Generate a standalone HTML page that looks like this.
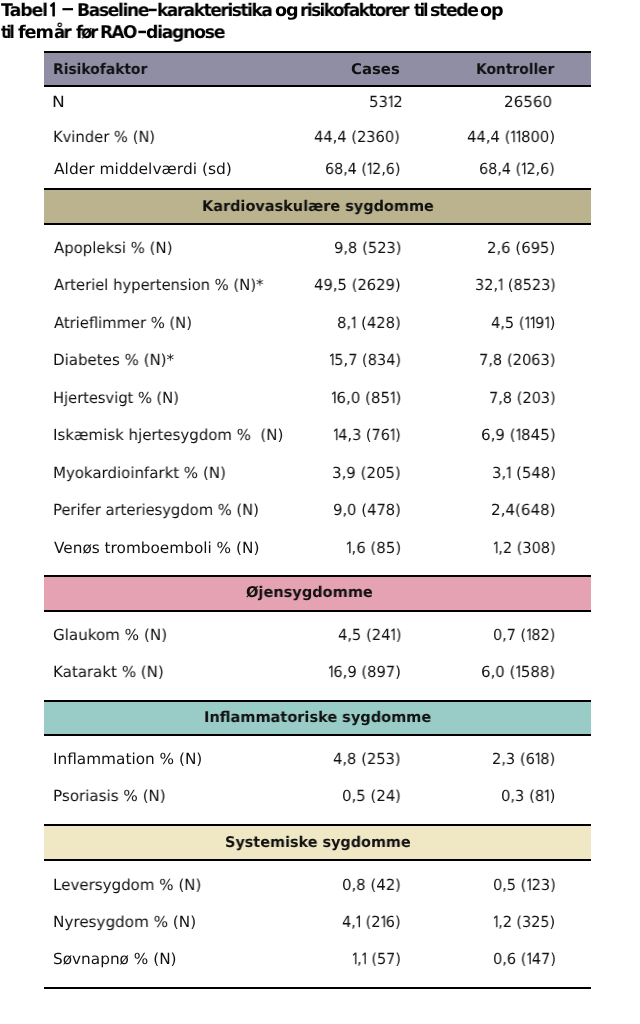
<!DOCTYPE html>
<html lang="da"><head><meta charset="utf-8"><title>Tabel 1 – Baseline-karakteristika og risikofaktorer</title>
<style>
html,body{margin:0;padding:0;background:#fff;text-rendering:geometricPrecision;}
body{width:640px;height:1024px;position:relative;overflow:hidden;}
.r,.b,.t{position:absolute;white-space:pre;transform-origin:0 0;color:#111;will-change:transform;}
.r{font-family:"DejaVu Sans", sans-serif;font-weight:400;font-size:15.3px;line-height:15.3px;letter-spacing:0px;}
.b{font-family:"DejaVu Sans", sans-serif;font-weight:700;font-size:14.8px;line-height:14.8px;letter-spacing:0px;}
.t{font-family:"DejaVu Sans", sans-serif;font-weight:700;font-size:17.6px;line-height:17.6px;letter-spacing:-1.1px;color:#000;}
.ln{position:absolute;left:44px;width:547px;height:2px;background:#000;}
.fill{position:absolute;left:44px;width:547px;}
.o{font-family:'NanumGothic', 'DejaVu Sans', sans-serif;margin-left:-0.085em;letter-spacing:-0.16em;-webkit-text-stroke:0.3px #111;}</style></head><body>
<div class="ln" style="top:51px"></div>
<div class="fill" style="top:53px;height:32px;background:#908ea5"></div>
<div class="ln" style="top:85px"></div>
<div class="ln" style="top:188px"></div>
<div class="fill" style="top:190px;height:33px;background:#bab38d"></div>
<div class="ln" style="top:223px"></div>
<div class="ln" style="top:575px"></div>
<div class="fill" style="top:577px;height:33px;background:#e4a2b3"></div>
<div class="ln" style="top:610px"></div>
<div class="ln" style="top:700px"></div>
<div class="fill" style="top:702px;height:32px;background:#99ccc6"></div>
<div class="ln" style="top:734px"></div>
<div class="ln" style="top:824px"></div>
<div class="fill" style="top:826px;height:33px;background:#f0e8c5"></div>
<div class="ln" style="top:859px"></div>
<div class="ln" style="top:987px"></div>
<div class="t" style="left:0.90px;top:3.10px;transform:scaleX(0.9859)">Tabel</div>
<div class="t" style="left:48.40px;top:2.10px;font-family:'NanumGothic', 'Liberation Sans', sans-serif;-webkit-text-stroke:0.7px #000;transform:scaleX(1.0000)">1</div>
<div class="t" style="left:61.47px;top:1.10px;transform:scaleX(1.5259)">–</div>
<div class="t" style="left:76.54px;top:3.10px;letter-spacing:-1.40px;transform:scaleX(0.9736)">Baseline</div>
<div class="t" style="left:147.48px;top:2.10px;transform:scaleX(1.5238)">-</div>
<div class="t" style="left:157.46px;top:3.10px;letter-spacing:-1.46px;transform:scaleX(0.9617)">karakteristika</div>
<div class="t" style="left:275.15px;top:3.10px;transform:scaleX(1.0024)">og</div>
<div class="t" style="left:300.28px;top:3.10px;letter-spacing:-1.54px;transform:scaleX(0.9491)">risikofaktorer</div>
<div class="t" style="left:413.58px;top:3.10px;letter-spacing:-2.00px;transform:scaleX(0.8746)">til</div>
<div class="t" style="left:429.62px;top:3.10px;letter-spacing:-1.35px;transform:scaleX(0.9792)">stede</div>
<div class="t" style="left:480.35px;top:3.10px;transform:scaleX(0.9955)">op</div>
<div class="t" style="left:0.79px;top:25.25px;letter-spacing:-2.20px;transform:scaleX(0.8491)">til</div>
<div class="t" style="left:18.05px;top:25.25px;transform:scaleX(1.0059)">fem</div>
<div class="t" style="left:54.49px;top:25.25px;letter-spacing:-1.95px;transform:scaleX(0.9465)">år</div>
<div class="t" style="left:75.57px;top:25.25px;letter-spacing:-2.12px;transform:scaleX(0.9221)">før</div>
<div class="t" style="left:100.15px;top:25.25px;letter-spacing:-1.73px;transform:scaleX(0.9655)">RAO</div>
<div class="t" style="left:136.67px;top:24.05px;transform:scaleX(1.4286)">-</div>
<div class="t" style="left:146.46px;top:25.25px;letter-spacing:-1.31px;transform:scaleX(0.9817)">diagnose</div>
<div class="b" style="left:52.83px;top:62.60px;transform:scaleX(0.9357)">Risikofaktor</div>
<div class="b" style="left:351.49px;top:62.60px;transform:scaleX(1.0074)">Cases</div>
<div class="b" style="left:476.13px;top:62.60px;transform:scaleX(0.9345)">Kontroller</div>
<div class="r" style="left:52.32px;top:94.70px;transform:scaleX(1.1176)">N</div>
<div class="r" style="left:368.59px;top:94.70px;transform:scaleX(0.9719)">53<span class="o">1</span>2</div>
<div class="r" style="left:503.81px;top:94.70px;transform:scaleX(0.9861)">26560</div>
<div class="r" style="left:52.56px;top:129.80px;transform:scaleX(0.9627)">Kvinder % (N)</div>
<div class="r" style="left:314.28px;top:129.80px;transform:scaleX(0.9573)">44,4 (2360)</div>
<div class="r" style="left:467.48px;top:129.80px;transform:scaleX(0.9652)">44,4 (<span class="o">1</span><span class="o">1</span>800)</div>
<div class="r" style="left:53.75px;top:161.90px;transform:scaleX(1.0123)">Alder middelværdi (sd)</div>
<div class="r" style="left:324.77px;top:161.90px;transform:scaleX(0.9338)">68,4 (<span class="o">1</span>2,6)</div>
<div class="r" style="left:479.46px;top:161.90px;transform:scaleX(0.9389)">68,4 (<span class="o">1</span>2,6)</div>
<div class="r" style="left:53.76px;top:240.75px;transform:scaleX(0.9733)">Apopleksi % (N)</div>
<div class="r" style="left:333.54px;top:240.75px;transform:scaleX(0.9603)">9,8 (523)</div>
<div class="r" style="left:487.13px;top:240.75px;transform:scaleX(0.9706)">2,6 (695)</div>
<div class="r" style="left:53.76px;top:278.23px;transform:scaleX(0.9646)">Arteriel hypertension % (N)*</div>
<div class="r" style="left:314.28px;top:278.23px;transform:scaleX(0.9664)">49,5 (2629)</div>
<div class="r" style="left:474.52px;top:278.23px;transform:scaleX(0.9446)">32,<span class="o">1</span> (8523)</div>
<div class="r" style="left:53.76px;top:315.71px;transform:scaleX(0.9633)">Atrieflimmer % (N)</div>
<div class="r" style="left:337.44px;top:315.71px;transform:scaleX(0.9631)">8,<span class="o">1</span> (428)</div>
<div class="r" style="left:490.99px;top:315.71px;transform:scaleX(0.9527)">4,5 (<span class="o">1</span><span class="o">1</span>9<span class="o">1</span>)</div>
<div class="r" style="left:52.53px;top:353.19px;transform:scaleX(0.9831)">Diabetes % (N)*</div>
<div class="r" style="left:329.09px;top:353.19px;transform:scaleX(0.9492)"><span class="o">1</span>5,7 (834)</div>
<div class="r" style="left:478.80px;top:353.19px;transform:scaleX(0.9561)">7,8 (2063)</div>
<div class="r" style="left:52.56px;top:390.67px;transform:scaleX(0.9577)">Hjertesvigt % (N)</div>
<div class="r" style="left:330.97px;top:390.67px;transform:scaleX(0.9799)"><span class="o">1</span>6,0 (85<span class="o">1</span>)</div>
<div class="r" style="left:488.61px;top:390.67px;transform:scaleX(0.9491)">7,8 (203)</div>
<div class="r" style="left:52.53px;top:428.15px;transform:scaleX(0.9783)">Iskæmisk hjertesygdom %  (N)</div>
<div class="r" style="left:333.39px;top:428.15px;transform:scaleX(0.9453)"><span class="o">1</span>4,3 (76<span class="o">1</span>)</div>
<div class="r" style="left:480.92px;top:428.15px;transform:scaleX(0.9823)">6,9 (<span class="o">1</span>845)</div>
<div class="r" style="left:52.53px;top:465.63px;transform:scaleX(0.9798)">Myokardioinfarkt % (N)</div>
<div class="r" style="left:332.28px;top:465.63px;transform:scaleX(0.9786)">3,9 (205)</div>
<div class="r" style="left:491.59px;top:465.63px;transform:scaleX(0.9654)">3,<span class="o">1</span> (548)</div>
<div class="r" style="left:52.56px;top:503.11px;transform:scaleX(0.9624)">Perifer arteriesygdom % (N)</div>
<div class="r" style="left:333.13px;top:503.11px;transform:scaleX(0.9662)">9,0 (478)</div>
<div class="r" style="left:490.71px;top:503.11px;transform:scaleX(0.9866)">2,4(648)</div>
<div class="r" style="left:53.75px;top:540.59px;transform:scaleX(0.9978)">Venøs tromboemboli % (N)</div>
<div class="r" style="left:346.07px;top:540.59px;transform:scaleX(0.9770)"><span class="o">1</span>,6 (85)</div>
<div class="r" style="left:492.79px;top:540.59px;transform:scaleX(0.9469)"><span class="o">1</span>,2 (308)</div>
<div class="r" style="left:53.26px;top:627.70px;transform:scaleX(0.9881)">Glaukom % (N)</div>
<div class="r" style="left:337.68px;top:627.70px;transform:scaleX(0.9594)">4,5 (24<span class="o">1</span>)</div>
<div class="r" style="left:493.16px;top:627.70px;transform:scaleX(0.9412)">0,7 (<span class="o">1</span>82)</div>
<div class="r" style="left:52.53px;top:665.10px;transform:scaleX(0.9831)">Katarakt % (N)</div>
<div class="r" style="left:328.28px;top:665.10px;transform:scaleX(0.9600)"><span class="o">1</span>6,9 (897)</div>
<div class="r" style="left:481.32px;top:665.10px;transform:scaleX(0.9769)">6,0 (<span class="o">1</span>588)</div>
<div class="r" style="left:52.50px;top:751.80px;transform:scaleX(0.9993)">Inflammation % (N)</div>
<div class="r" style="left:333.38px;top:751.80px;transform:scaleX(0.9626)">4,8 (253)</div>
<div class="r" style="left:492.24px;top:751.80px;transform:scaleX(0.9553)">2,3 (6<span class="o">1</span>8)</div>
<div class="r" style="left:52.52px;top:789.40px;transform:scaleX(0.9879)">Psoriasis % (N)</div>
<div class="r" style="left:342.13px;top:789.40px;transform:scaleX(0.9734)">0,5 (24)</div>
<div class="r" style="left:501.24px;top:789.40px;transform:scaleX(0.9611)">0,3 (8<span class="o">1</span>)</div>
<div class="r" style="left:52.52px;top:877.50px;transform:scaleX(0.9838)">Leversygdom % (N)</div>
<div class="r" style="left:342.13px;top:877.50px;transform:scaleX(0.9734)">0,8 (42)</div>
<div class="r" style="left:492.75px;top:877.50px;transform:scaleX(0.9475)">0,5 (<span class="o">1</span>23)</div>
<div class="r" style="left:52.51px;top:914.90px;transform:scaleX(0.9922)">Nyresygdom % (N)</div>
<div class="r" style="left:342.39px;top:914.90px;transform:scaleX(0.9450)">4,<span class="o">1</span> (2<span class="o">1</span>6)</div>
<div class="r" style="left:493.40px;top:914.90px;transform:scaleX(0.9375)"><span class="o">1</span>,2 (325)</div>
<div class="r" style="left:53.00px;top:951.75px;transform:scaleX(0.9971)">Søvnapnø % (N)</div>
<div class="r" style="left:352.10px;top:951.75px;transform:scaleX(0.9353)"><span class="o">1</span>,<span class="o">1</span> (57)</div>
<div class="r" style="left:492.55px;top:951.75px;transform:scaleX(0.9506)">0,6 (<span class="o">1</span>47)</div>
<div class="b" style="left:201.78px;top:199.75px;transform:scaleX(0.9777)">Kardiovaskulære sygdomme</div>
<div class="b" style="left:246.26px;top:586.20px;transform:scaleX(0.9843)">Øjensygdomme</div>
<div class="b" style="left:204.07px;top:710.70px;transform:scaleX(0.9813)">Inflammatoriske sygdomme</div>
<div class="b" style="left:224.53px;top:835.80px;transform:scaleX(0.9733)">Systemiske sygdomme</div>
</body></html>
